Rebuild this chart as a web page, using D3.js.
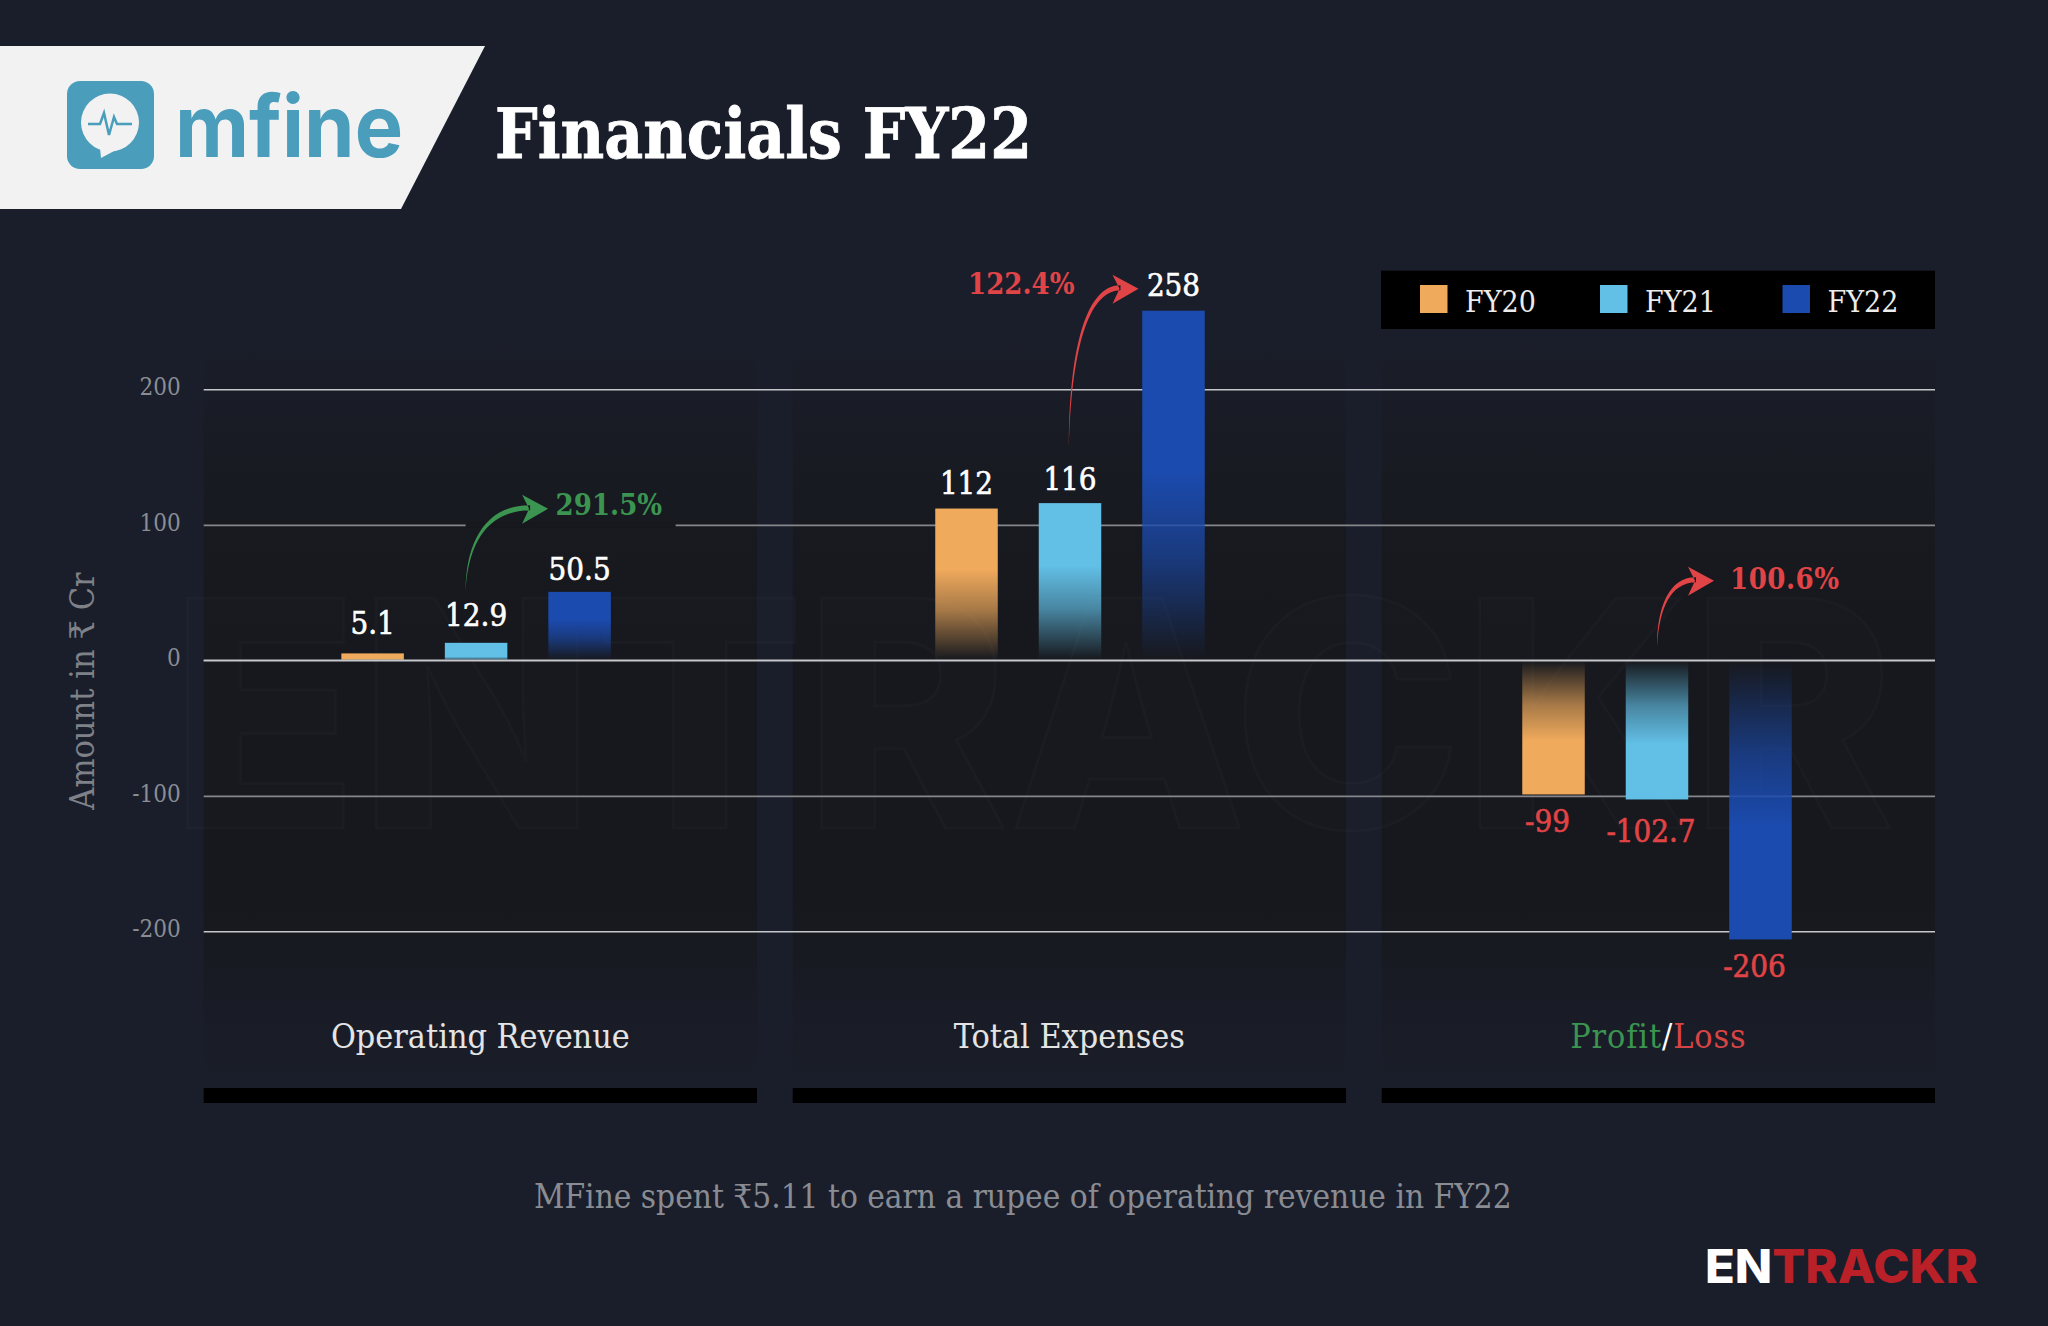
<!DOCTYPE html>
<html>
<head>
<meta charset="utf-8">
<script src="https://cdn.jsdelivr.net/npm/d3@7"></script>
<style>
  html, body { margin: 0; padding: 0; background: #1a1e2a; }
  svg { display: block; }
  text { font-family: 'DejaVu Serif Condensed', 'DejaVu Serif', serif; }
</style>
</head>
<body>
<script>
// Chart values
const categories = ["Operating Revenue", "Total Expenses", "Profit/Loss"];
const years = ["FY20", "FY21", "FY22"];
const revenue = [5.1, 12.9, 50.5];
const expenses = [112, 116, 258];
const profitLoss = [-99, -102.7, -206];
const yTicks = [200, 100, 0, -100, -200];
const growth = ["291.5%", "122.4%", "100.6%"];
const barColors = ["#f0aa5c", "#62bfe6", "#1b4baf"];

const w = 2048;
const h = 1326;
const bg = "#1a1e2a";
const red = "#e04446";
const green = "#3b9450";

const svg = d3.select("body").append("svg")
    .attr("width", w)
    .attr("height", h)
    .style("background", bg);
const defs = svg.append("defs");

// Scales
const yScale = d3.scaleLinear().domain([0, 200]).range([660.3, 389.3]);
const groupCentre = d3.scaleOrdinal(categories, [476.1, 1070, 1657]);
const xInner = d3.scaleBand().domain(years).range([-134.75, 134.75]).paddingInner(0.396);
const panelX = d3.scaleBand().domain(categories).range([203.7, 1935]).paddingInner(0.0606);

// Panels, they fade into the background at top and bottom
const panelFill = defs.append("linearGradient")
    .attr("id", "panelFill")
    .attr("x1", 0).attr("x2", 0).attr("y1", 0).attr("y2", 1);
[[0, bg], [0.2, "#181a21"], [0.4, "#16181d"], [0.75, "#16181d"], [0.9, "#191c26"], [1, bg]].forEach(s => {
    panelFill.append("stop").attr("offset", s[0]).attr("stop-color", s[1]);
});
svg.selectAll("rect.panel")
    .data(categories)
    .enter()
    .append("rect")
    .attr("class", "panel")
    .attr("x", d => panelX(d))
    .attr("y", 340)
    .attr("width", panelX.bandwidth())
    .attr("height", 748)
    .attr("fill", "url(#panelFill)");
// Black strip under each panel
svg.selectAll("rect.strip")
    .data(categories)
    .enter()
    .append("rect")
    .attr("class", "strip")
    .attr("x", d => panelX(d))
    .attr("y", 1088)
    .attr("width", panelX.bandwidth())
    .attr("height", 15)
    .attr("fill", "#000");

// Faint watermark
svg.append("text")
    .text("ENTRACKR")
    .attr("x", 170)
    .attr("y", 828)
    .attr("textLength", 1725)
    .attr("lengthAdjust", "spacingAndGlyphs")
    .style("font-family", "Inter, sans-serif")
    .style("font-weight", 800)
    .style("font-size", "316px")
    .attr("fill", "rgba(255,255,255,0.006)")
    .attr("stroke", "rgba(255,255,255,0.018)")
    .attr("stroke-width", 3);

// Y axis with the grid lines
const yAxis = d3.axisLeft(yScale)
    .tickValues(yTicks)
    .tickFormat(d => d)
    .tickSizeInner(-(1935 - 203.7))
    .tickSizeOuter(0)
    .tickPadding(23);
const yAxisG = svg.append("g")
    .attr("transform", "translate(203.7,0)")
    .call(yAxis);
yAxisG.select(".domain").remove();
yAxisG.selectAll("line")
    .attr("stroke", (d, i) => i % 2 ? "#85878b" : "#c6c7cb")
    .attr("stroke-width", (d, i) => i % 2 ? 1.8 : 1.4);
yAxisG.selectAll("text")
    .attr("dy", "0.22em")
    .style("font-size", "24px")
    .attr("fill", "#8b8d94");

svg.append("text")
    .text("Amount in ₹ Cr")
    .attr("transform", "translate(94,691) rotate(-90)")
    .attr("text-anchor", "middle")
    .style("font-size", "34px")
    .attr("fill", "#7f8189");

// Bars
const barData = [];
[revenue, expenses, profitLoss].forEach((values, c) => {
    values.forEach((v, i) => {
        barData.push({ category: categories[c], year: years[i], value: v, color: barColors[i] });
    });
});
barData.forEach((d, i) => {
    d.id = "barFade" + i;
    const len = Math.abs(yScale(d.value) - yScale(0));
    const fade = len < 30 ? 0.2 * len : Math.min(0.6 * len, 190);
    const s = 1 - fade / len;
    const grad = defs.append("linearGradient")
        .attr("id", d.id)
        .attr("x1", 0).attr("x2", 0)
        .attr("y1", d.value > 0 ? 0 : 1)
        .attr("y2", d.value > 0 ? 1 : 0);
    [[0, 1], [s, 1], [s + (1 - s) * 0.45, 0.66], [s + (1 - s) * 0.8, 0.24], [s + (1 - s) * 0.97, 0.03], [1, 0]].forEach(t => {
        grad.append("stop")
            .attr("offset", t[0])
            .attr("stop-color", d.color)
            .attr("stop-opacity", t[1]);
    });
});
const barX = d => groupCentre(d.category) + xInner(d.year);
const barMid = d => barX(d) + xInner.bandwidth() / 2;

svg.selectAll("rect.bar")
    .data(barData)
    .enter()
    .append("rect")
    .attr("class", "bar")
    .attr("x", barX)
    .attr("y", d => Math.min(yScale(d.value), yScale(0)))
    .attr("width", xInner.bandwidth())
    .attr("height", d => Math.abs(yScale(d.value) - yScale(0)))
    .attr("fill", d => "url(#" + d.id + ")");

// Zero line goes back on top of the bars
svg.append("line")
    .attr("x1", 203.7).attr("x2", 1935)
    .attr("y1", yScale(0)).attr("y2", yScale(0))
    .attr("stroke", "#c6c7cb")
    .attr("stroke-width", 1.4);

// Value labels, the labels don't sit at one fixed distance from the bars
const labelShift = [-5, -2, 2.6, 0, 1.4, -0.5, -0.7, 4.2, -0.7];
svg.selectAll("text.value")
    .data(barData)
    .enter()
    .append("text")
    .attr("class", "value")
    .text(d => d.value)
    .attr("x", d => barMid(d) + (d.value < 0 ? -6 : 0))
    .attr("y", (d, i) => (d.value > 0 ? yScale(d.value) - 14.5 : yScale(d.value) + 38) + labelShift[i])
    .attr("text-anchor", "middle")
    .style("font-size", "31px")
    .attr("fill", d => d.value > 0 ? "#fff" : red)
    .attr("stroke", d => d.value > 0 ? "#fff" : red)
    .attr("stroke-width", 0.6);

// Growth arrows, start over the FY21 bar of each group
function growthArrow(sx, sy, tx, ty, color) {
    const ex = tx - 18;
    const ey = ty - 1;
    const dy = ey - sy;
    const dx = ex - sx;
    const tail = `M${sx},${sy}` +
        `C${sx},${sy + dy * 0.6} ${sx + dx * 0.32},${ey - 3} ${ex},${ey - 2.5}` +
        `L${ex},${ey + 2.5}` +
        `C${sx + dx * 0.36},${ey + 3} ${sx + 2.5},${sy + dy * 0.6} ${sx},${sy}Z`;
    const head = `M${tx},${ty}L${tx - 26},${ty - 14}L${tx - 19},${ty}L${tx - 26},${ty + 15}Z`;
    svg.append("path").attr("d", tail + head).attr("fill", color);
}
const fy21Mid = c => groupCentre(c) + xInner("FY21") + xInner.bandwidth() / 2;

// The 100 line is broken behind the green note
svg.append("rect")
    .attr("x", fy21Mid(categories[0]) - 10.5)
    .attr("y", yScale(100) - 3)
    .attr("width", 210)
    .attr("height", 6)
    .attr("fill", "#16181d");

growthArrow(fy21Mid(categories[0]) - 10.5, yScale(12.9) - 51, fy21Mid(categories[0]) + 72, yScale(100) - 16, green);
growthArrow(fy21Mid(categories[1]) - 1, yScale(116) - 56, fy21Mid(categories[1]) + 68.5, yScale(258) - 22, red);
growthArrow(fy21Mid(categories[2]), yScale(0) - 13.5, fy21Mid(categories[2]) + 57, yScale(0) - 79.5, red);

const noteX = [555.6, 968, 1730];
const noteY = [515, 294, 589];
svg.selectAll("text.note")
    .data(growth)
    .enter()
    .append("text")
    .attr("class", "note")
    .text(d => d)
    .attr("x", (d, i) => noteX[i])
    .attr("y", (d, i) => noteY[i])
    .style("font-size", "29px")
    .style("font-weight", 700)
    .style("letter-spacing", (d, i) => i == 2 ? "0.5px" : "0")
    .attr("fill", (d, i) => i == 0 ? green : red);

// Legend
svg.append("rect")
    .attr("x", 1381).attr("y", 270.7)
    .attr("width", 554).attr("height", 58.3)
    .attr("fill", "#000");
const legendX = d3.scaleOrdinal(years, [1420, 1600, 1782.5]);
svg.selectAll("rect.swatch")
    .data(years)
    .enter()
    .append("rect")
    .attr("class", "swatch")
    .attr("x", d => legendX(d))
    .attr("y", 285)
    .attr("width", 27.5)
    .attr("height", 28)
    .attr("fill", (d, i) => barColors[i]);
svg.selectAll("text.legend")
    .data(years)
    .enter()
    .append("text")
    .attr("class", "legend")
    .text(d => d)
    .attr("x", d => legendX(d) + 45)
    .attr("y", 312)
    .style("font-size", "30px")
    .attr("fill", "#ececec");

// Category names
const catY = 1048;
svg.selectAll("text.cat")
    .data(categories.slice(0, 2))
    .enter()
    .append("text")
    .attr("class", "cat")
    .text(d => d)
    .attr("x", d => panelX(d) + panelX.bandwidth() / 2)
    .attr("y", catY)
    .attr("text-anchor", "middle")
    .style("font-size", "33.8px")
    .attr("fill", "#e4e4e4");
const plText = svg.append("text")
    .attr("x", panelX(categories[2]) + panelX.bandwidth() / 2)
    .attr("y", catY)
    .attr("text-anchor", "middle")
    .style("letter-spacing", "0.9px")
    .style("font-size", "33.8px");
plText.append("tspan").text("Profit").attr("fill", green);
plText.append("tspan").text("/").attr("fill", "#fff");
plText.append("tspan").text("Loss").attr("fill", "#d64446");

// Footnote
svg.append("text")
    .text("MFine spent ₹5.11 to earn a rupee of operating revenue in FY22")
    .attr("x", 534)
    .attr("y", 1207.7)
    .style("font-size", "33.1px")
    .attr("fill", "#8a8c94");

// Header banner with the logo
svg.append("path")
    .attr("d", "M0,46L485,46L401,209L0,209Z")
    .attr("fill", "#f2f2f3");
svg.append("rect")
    .attr("x", 67).attr("y", 81)
    .attr("width", 87).attr("height", 88)
    .attr("rx", 13)
    .attr("fill", "#4a9dbb");
svg.append("circle")
    .attr("cx", 110).attr("cy", 122.5).attr("r", 29)
    .attr("fill", "#f2f2f3");
svg.append("path")
    .attr("d", "M100,148L101,158L116,150Z")
    .attr("fill", "#f2f2f3");
svg.append("path")
    .attr("d", "M88,124L100,124L104,113L109,135L114,117L117,124L132,124")
    .attr("fill", "none")
    .attr("stroke", "#4a9dbb")
    .attr("stroke-width", 2.5);
svg.append("text")
    .text("mfine")
    .attr("x", 175)
    .attr("y", 157)
    .attr("textLength", 228)
    .attr("lengthAdjust", "spacingAndGlyphs")
    .style("font-family", "Inter, sans-serif")
    .style("font-weight", 700)
    .style("font-size", "86px")
    .attr("fill", "#4a9dbb");

// Title
svg.append("text")
    .text("Financials FY22")
    .attr("x", 495)
    .attr("y", 158)
    .attr("textLength", 537)
    .attr("lengthAdjust", "spacingAndGlyphs")
    .style("font-size", "70px")
    .style("font-weight", 700)
    .attr("fill", "#fff")
    .attr("stroke", "#fff")
    .attr("stroke-width", 0.8);

// Brand mark bottom right
const brand = svg.append("text")
    .attr("x", 1705)
    .attr("y", 1282.7)
    .attr("textLength", 273)
    .attr("lengthAdjust", "spacingAndGlyphs")
    .style("font-family", "Inter, sans-serif")
    .style("font-weight", 800)
    .style("font-size", "46px");
brand.append("tspan").text("EN").attr("fill", "#fff");
brand.append("tspan").text("TRACKR").attr("fill", "#b92027");
</script>
</body>
</html>
